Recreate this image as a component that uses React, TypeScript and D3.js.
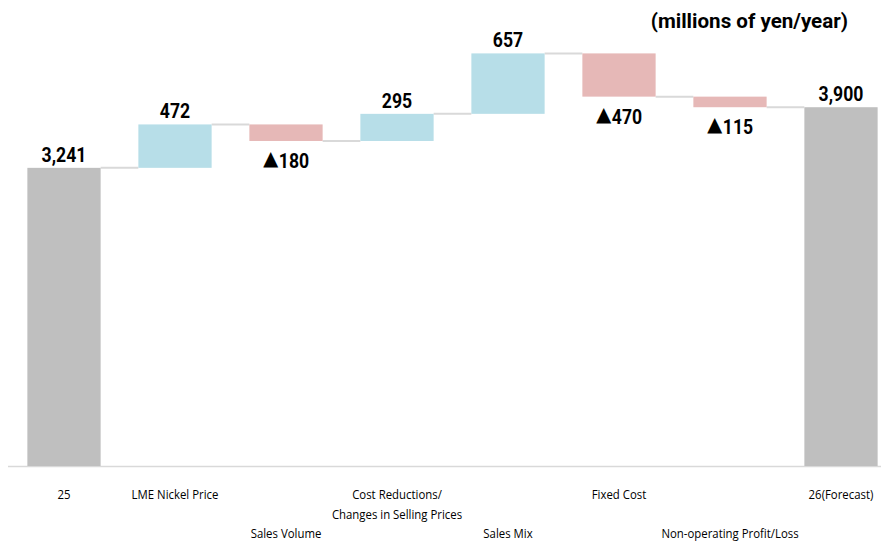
import React, { useEffect, useRef } from "react";
import * as d3 from "d3";

// categories in order (labels may be multi-line, row 0 = upper, row 1 = lower)
const categories = [
  "25",
  "LME Nickel Price",
  "Sales Volume",
  "Cost Reductions/\nChanges in Selling Prices",
  "Sales Mix",
  "Fixed Cost",
  "Non-operating Profit/Loss",
  "26(Forecast)",
];
const labelRows = [0, 0, 1, 0, 1, 0, 1, 0];
// "total" bars stand on zero, "delta" bars float
const kinds = ["total", "delta", "delta", "delta", "delta", "delta", "delta", "total"];
const values = [3241, 472, -180, 295, 657, -470, -115, 3900];
const unitLabel = "(millions of yen/year)";

const W = 881;
const H = 543;

const App = () => {
  const ref = useRef<SVGSVGElement>(null);

  useEffect(() => {
    const svg = d3.select(ref.current);
    svg.selectAll("*").remove();

    // build waterfall steps
    let run = 0;
    const steps = values.map((v, i) => {
      let start: number, end: number;
      if (kinds[i] === "total") {
        start = 0;
        end = v;
        run = v;
      } else {
        start = run;
        end = run + v;
        run = end;
      }
      return { name: categories[i], v, start, end, kind: kinds[i], row: labelRows[i] };
    });

    const x = d3
      .scaleBand()
      .domain(categories)
      .range([8.5, 896.5])
      .paddingInner(0.34)
      .paddingOuter(0.17);

    const y = d3.scaleLinear().domain([0, 4485]).range([466, 53.4]);

    const numFont = "Roboto, 'Liberation Sans', sans-serif";
    const squeeze = 0.84; // the original number font is a condensed face

    // baseline
    svg
      .append("line")
      .attr("x1", 8)
      .attr("x2", W)
      .attr("y1", y(0) + 0.5)
      .attr("y2", y(0) + 0.5)
      .attr("stroke", "#d9d9d9")
      .attr("stroke-width", 1.5);

    // connectors
    steps.slice(0, -1).forEach((s, i) => {
      const next = categories[i + 1];
      svg
        .append("line")
        .attr("x1", (x(s.name) ?? 0) + x.bandwidth())
        .attr("x2", x(next) ?? 0)
        .attr("y1", y(s.end))
        .attr("y2", y(s.end))
        .attr("stroke", "#d9d9d9")
        .attr("stroke-width", 2);
    });

    // bars
    svg
      .append("g")
      .selectAll("rect")
      .data(steps)
      .join("rect")
      .attr("x", (d) => x(d.name) ?? 0)
      .attr("width", x.bandwidth())
      .attr("y", (d) => y(Math.max(d.start, d.end)))
      .attr("height", (d) => Math.abs(y(d.start) - y(d.end)))
      .attr("fill", (d) => (d.kind === "total" ? "#bfbfbf" : d.v >= 0 ? "#b7dee8" : "#e6b8b7"));

    // value labels (negatives get a ▲ prefix, Japanese style)
    const vl = svg
      .append("g")
      .selectAll("text")
      .data(steps)
      .join("text")
      .attr("transform", (d) => {
        const cx = (x(d.name) ?? 0) + x.bandwidth() / 2;
        const ty = d.v >= 0 ? y(Math.max(d.start, d.end)) - 6 : y(Math.min(d.start, d.end)) + 27;
        return `translate(${cx},${ty}) scale(${squeeze},1)`;
      })
      .attr("text-anchor", "middle")
      .attr("font-family", numFont)
      .attr("font-weight", "bold")
      .attr("font-size", 21)
      .attr("fill", "#000");
    vl.each(function (d) {
      const t = d3.select(this);
      if (d.v < 0) {
        t.append("tspan")
          .attr("font-family", "'Noto Sans CJK JP', sans-serif")
          .attr("font-size", 19)
          .text("▲");
      }
      t.append("tspan").text(d3.format(",")(Math.abs(d.v)));
    });

    // category labels
    const cat = svg
      .append("g")
      .selectAll("text")
      .data(steps)
      .join("text")
      .attr("text-anchor", "middle")
      .attr("font-family", "'Open Sans', sans-serif")
      .attr("font-size", 12)
      .attr("fill", "#000");
    cat.each(function (d) {
      const lines = d.name.split("\n");
      const t = d3.select(this);
      const cx = (x(d.name) ?? 0) + x.bandwidth() / 2;
      t.attr("transform", `translate(${cx},0) scale(0.95,1)`);
      lines.forEach((ln, k) => {
        t.append("tspan")
          .attr("x", 0)
          .attr("y", (d.row === 0 ? 499 : 538) + k * 20)
          .text(ln);
      });
    });

    // unit label
    svg
      .append("text")
      .attr("transform", `translate(848,28) scale(0.98,1)`)
      .attr("text-anchor", "end")
      .attr("font-family", numFont)
      .attr("font-weight", "bold")
      .attr("font-size", 21)
      .text(unitLabel);
  }, []);

  return (
    <svg
      ref={ref}
      width={W}
      height={H}
      style={{ position: "absolute", left: 0, top: 0, background: "#fff" }}
    ></svg>
  );
};

export default App;
